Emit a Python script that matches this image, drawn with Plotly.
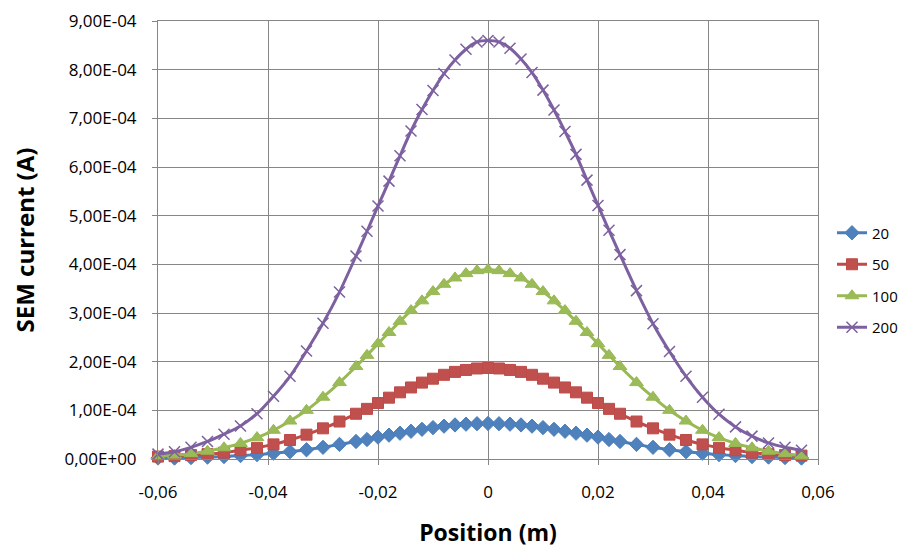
import plotly.graph_objects as go

# Position (m)
position = [-0.060, -0.057, -0.054, -0.051, -0.048, -0.045, -0.042, -0.039, -0.036, -0.033, -0.030, -0.027,
            -0.024, -0.022, -0.020, -0.018, -0.016, -0.014, -0.012, -0.010, -0.008, -0.006, -0.004, -0.002,
            0.000, 0.002, 0.004, 0.006, 0.008, 0.010, 0.012, 0.014, 0.016, 0.018, 0.020, 0.022, 0.024,
            0.027, 0.030, 0.033, 0.036, 0.039, 0.042, 0.045, 0.048, 0.051, 0.054, 0.057]

# SEM current (units of 1e-4 A)
s20 = [0.02, 0.02, 0.03, 0.04, 0.05, 0.07, 0.09, 0.12, 0.15, 0.19, 0.24, 0.30,
       0.36, 0.40, 0.45, 0.49, 0.53, 0.57, 0.61, 0.645, 0.675, 0.70, 0.715, 0.725,
       0.73, 0.725, 0.715, 0.70, 0.675, 0.645, 0.61, 0.57, 0.53, 0.49, 0.45, 0.40, 0.36,
       0.30, 0.24, 0.19, 0.15, 0.12, 0.09, 0.07, 0.05, 0.04, 0.03, 0.02]
s50 = [0.05, 0.06, 0.08, 0.10, 0.13, 0.18, 0.23, 0.30, 0.39, 0.50, 0.63, 0.77,
       0.93, 1.03, 1.15, 1.26, 1.37, 1.47, 1.57, 1.65, 1.73, 1.79, 1.83, 1.86,
       1.87, 1.86, 1.83, 1.79, 1.73, 1.65, 1.57, 1.47, 1.37, 1.26, 1.15, 1.03, 0.93,
       0.77, 0.63, 0.50, 0.39, 0.30, 0.23, 0.18, 0.13, 0.10, 0.08, 0.07]
s100 = [0.05, 0.08, 0.11, 0.16, 0.23, 0.32, 0.44, 0.59, 0.78, 1.00, 1.27, 1.57,
        1.90, 2.13, 2.37, 2.60, 2.83, 3.05, 3.25, 3.44, 3.59, 3.72, 3.81, 3.87,
        3.89, 3.87, 3.81, 3.72, 3.59, 3.44, 3.25, 3.05, 2.83, 2.60, 2.37, 2.13, 1.90,
        1.57, 1.27, 1.00, 0.78, 0.59, 0.44, 0.32, 0.23, 0.16, 0.11, 0.07]
s200 = [0.10, 0.15, 0.24, 0.36, 0.51, 0.68, 0.93, 1.29, 1.70, 2.22, 2.79, 3.43,
        4.17, 4.68, 5.20, 5.71, 6.23, 6.74, 7.18, 7.57, 7.92, 8.20, 8.42, 8.57,
        8.60, 8.57, 8.44, 8.22, 7.94, 7.58, 7.17, 6.73, 6.26, 5.73, 5.21, 4.70, 4.20,
        3.46, 2.78, 2.21, 1.70, 1.27, 0.92, 0.66, 0.47, 0.33, 0.24, 0.18]

series_names = ["20", "50", "100", "200"]

x_tickvals = [-0.06, -0.04, -0.02, 0, 0.02, 0.04, 0.06]
x_ticktext = ["-0,06", "-0,04", "-0,02", "0", "0,02", "0,04", "0,06"]
y_tickvals = [0, 1e-4, 2e-4, 3e-4, 4e-4, 5e-4, 6e-4, 7e-4, 8e-4, 9e-4]
y_ticktext = ["0,00E+00", "1,00E-04", "2,00E-04", "3,00E-04", "4,00E-04",
              "5,00E-04", "6,00E-04", "7,00E-04", "8,00E-04", "9,00E-04"]

styles = [
    dict(color="#4A7EBB", fill="#4F81BD", symbol="diamond", size=11),
    dict(color="#BE4B48", fill="#C0504D", symbol="square", size=11),
    dict(color="#98B954", fill="#9BBB59", symbol="triangle-up", size=12),
    dict(color="#7D60A0", fill="#8064A2", symbol="x-thin", size=11),
]

fig = go.Figure()
for i, (name, vals) in enumerate(zip(series_names, [s20, s50, s100, s200])):
    st = styles[i]
    if st["symbol"] == "x-thin":
        marker = dict(symbol="x-thin", size=st["size"], line=dict(color=st["color"], width=1.5))
    else:
        marker = dict(symbol=st["symbol"], size=st["size"], color=st["fill"],
                      line=dict(color=st["color"], width=1))
    fig.add_trace(go.Scatter(
        x=position, y=[v * 1e-4 for v in vals], name=name, mode="lines+markers",
        line=dict(color=st["color"], width=3, shape="spline", smoothing=0.6),
        marker=marker, cliponaxis=False, legendgroup=name,
    ))

font_family = "Open Sans, Lato, sans-serif"
fig.update_layout(
    width=904, height=544,
    margin=dict(l=150, r=94, t=13, b=93),
    paper_bgcolor="white", plot_bgcolor="white",
    font=dict(family=font_family, size=17, color="#000000"),
    showlegend=True,
    legend=dict(x=0.9115, xanchor="left", y=0.5, yanchor="middle",
                xref="container", yref="container",
                font=dict(size=15), tracegroupgap=9, bgcolor="rgba(0,0,0,0)",
                itemwidth=30),
    xaxis=dict(range=[-0.06, 0.06], tickvals=x_tickvals, ticktext=x_ticktext,
               showgrid=True, gridcolor="#868686", gridwidth=1,
               showline=True, linecolor="#868686", linewidth=1, mirror=True,
               ticks="outside", ticklen=5, tickcolor="#868686",
               ticklabelstandoff=13, automargin=False, ticklabeloverflow="allow",
               zeroline=False,
               title=dict(text="<b>Position (m)</b>", font=dict(size=23), standoff=22)),
    yaxis=dict(range=[0, 9e-4], tickvals=y_tickvals, ticktext=y_ticktext,
               showgrid=True, gridcolor="#868686", gridwidth=1,
               showline=True, linecolor="#868686", linewidth=1, mirror=True,
               ticks="outside", ticklen=5, tickcolor="#868686",
               ticklabelstandoff=12, automargin=False, ticklabeloverflow="allow",
               zeroline=False,
               title=dict(text="<b>SEM current (A)</b>", font=dict(size=24), standoff=27)),
)

fig.write_html("out.html")
